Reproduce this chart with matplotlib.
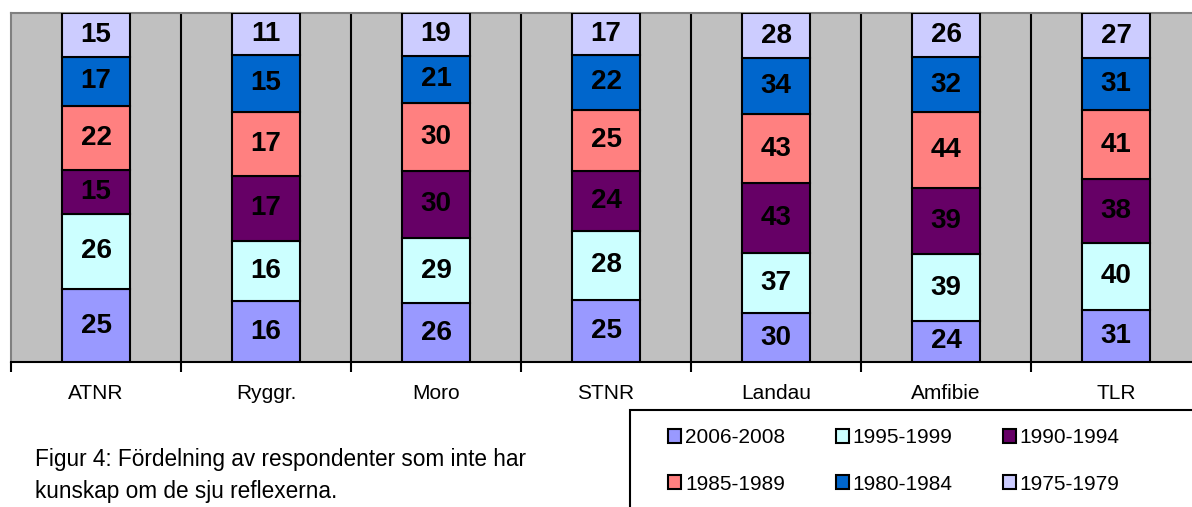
import numpy as np
import matplotlib.pyplot as plt
from matplotlib.patches import Rectangle

plt.rcParams['font.family'] = ['Liberation Sans', 'DejaVu Sans']

categories = ['ATNR', 'Ryggr.', 'Moro', 'STNR', 'Landau', 'Amfibie', 'TLR']
periods = ['2006-2008', '1995-1999', '1990-1994', '1985-1989', '1980-1984', '1975-1979']
# values per period (bottom to top), one entry per category
v_2006_2008 = [25, 16, 26, 25, 30, 24, 31]
v_1995_1999 = [26, 16, 29, 28, 37, 39, 40]
v_1990_1994 = [15, 17, 30, 24, 43, 39, 38]
v_1985_1989 = [22, 17, 30, 25, 43, 44, 41]
v_1980_1984 = [17, 15, 21, 22, 34, 32, 31]
v_1975_1979 = [15, 11, 19, 17, 28, 26, 27]
colors = ['#9999FF', '#CCFFFF', '#660066', '#FF8080', '#0066CC', '#CCCCFF']

series = np.array([v_2006_2008, v_1995_1999, v_1990_1994,
                   v_1985_1989, v_1980_1984, v_1975_1979], dtype=float)
totals = series.sum(axis=0)
shares = series / totals

W, H = 1192, 507
fig = plt.figure(figsize=(W / 100, H / 100), dpi=100)
ax = fig.add_axes([11 / W, (H - 362) / H, 1190 / W, 349 / H])
ax.set_facecolor('#C0C0C0')

x = np.arange(len(categories))
bottom = np.zeros(len(categories))
for i in range(len(periods)):
    ax.bar(x, shares[i], 0.4, bottom=bottom, color=colors[i],
           edgecolor='black', linewidth=1.5, label=periods[i], zorder=3)
    for j in range(len(categories)):
        ax.text(x[j], bottom[j] + shares[i][j] / 2, '%d' % series[i][j],
                ha='center', va='center', fontsize=20, fontweight='bold',
                color='black', zorder=4)
    bottom += shares[i]

ax.set_xlim(-0.5, len(categories) - 0.5)
ax.set_ylim(0, 1)
ax.set_yticks([])
bounds = np.arange(-0.5, len(categories), 1.0)
ax.set_xticks(bounds)
ax.set_xticklabels([])
ax.tick_params(axis='x', which='major', length=7, width=1.5, color='black')
ax.set_xticks(x, minor=True)
ax.set_xticklabels(categories, minor=True, fontsize=15)
ax.tick_params(axis='x', which='minor', length=0, pad=16)
for b in bounds[1:]:
    ax.axvline(b, color='black', linewidth=1.5, zorder=1)
ax.spines['bottom'].set_color('black')
ax.spines['bottom'].set_linewidth(1.5)
for s in ['left', 'top']:
    ax.spines[s].set_color('#808080')
    ax.spines[s].set_linewidth(1.5)
ax.spines['right'].set_visible(False)

# legend box reaching past the figure edge
fig.patches.append(Rectangle((630 / W, -0.1), 0.6, (H - 410) / H + 0.1,
                             transform=fig.transFigure, fill=False,
                             edgecolor='black', linewidth=1.5))
handles, labels = ax.get_legend_handles_labels()
order = [0, 3, 1, 4, 2, 5]
fig.legend([handles[k] for k in order], [labels[k] for k in order],
           ncol=3, frameon=False, loc='upper left', borderpad=0,
           bbox_to_anchor=(658 / W, (H - 418) / H), fontsize=15,
           handlelength=0.62, handleheight=0.62, handletextpad=0.2,
           columnspacing=2.4, labelspacing=1.3)

fig.text(35 / W, (H - 466) / H, 'Figur 4: Fördelning av respondenter som inte har',
         fontsize=16.3, va='baseline', ha='left')
fig.text(35 / W, (H - 498) / H, 'kunskap om de sju reflexerna.',
         fontsize=16.3, va='baseline', ha='left')

fig.savefig('out.png', dpi=100)
